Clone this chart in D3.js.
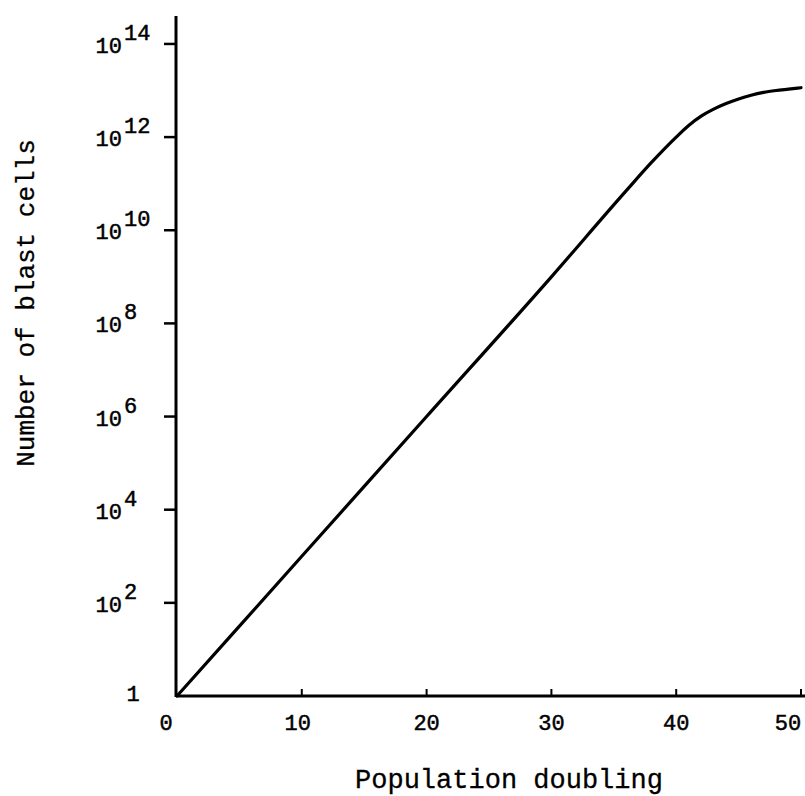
<!DOCTYPE html>
<html>
<head>
<meta charset="utf-8">
<script src="https://cdn.jsdelivr.net/npm/d3@7"></script>
<style>
  html, body { margin: 0; padding: 0; background: #fff; }
  svg { display: block; }
  text { font-family: "Liberation Mono", "DejaVu Sans Mono", monospace; fill: #000; }
</style>
</head>
<body>
<svg id="chart" width="805" height="796"></svg>
<script>
// ---- data ----
const doublings = [0, 10, 20, 30, 36, 38, 40, 41, 42, 43, 44, 45, 46, 47, 48, 49, 50];
const cellExponents = [0, 3.0, 6.0, 9.0, 10.85, 11.45, 12.0, 12.25, 12.45, 12.6, 12.72, 12.82, 12.9, 12.96, 13.0, 13.03, 13.06];
const cells = cellExponents.map(e => Math.pow(10, e));
const xTicks = [0, 10, 20, 30, 40, 50];
const yTickExps = [0, 2, 4, 6, 8, 10, 12, 14];
const xTitle = "Population doubling";
const yTitle = "Number of blast cells";

const svg = d3.select("#chart");
const x = d3.scaleLinear().domain([0, 50]).range([177, 801]);
const y = d3.scaleLog().domain([1, Math.pow(10, 14.6)]).range([696, 16]);

const ink = "#000";

// x axis line
svg.append("line")
  .attr("x1", x(0)).attr("x2", 805)
  .attr("y1", y(1)).attr("y2", y(1))
  .attr("stroke", ink).attr("stroke-width", 3);
// y axis line
svg.append("line")
  .attr("x1", x(0) - 1).attr("x2", x(0) - 1)
  .attr("y1", y(1) + 1).attr("y2", y.range()[1])
  .attr("stroke", ink).attr("stroke-width", 3);

// x ticks (small, pointing up)
svg.selectAll(".xt").data(xTicks.filter(d => d > 0)).enter().append("line")
  .attr("x1", d => x(d)).attr("x2", d => x(d))
  .attr("y1", y(1)).attr("y2", y(1) - 7)
  .attr("stroke", ink).attr("stroke-width", 2);

// x tick labels
const xOffsets = {0: -11, 10: -4, 50: -13};
svg.selectAll(".xl").data(xTicks).enter().append("text")
  .attr("x", d => x(d) + (xOffsets[d] || 0))
  .attr("y", 730)
  .attr("text-anchor", "middle")
  .attr("font-size", 22)
  .attr("stroke", ink).attr("stroke-width", 0.5)
  .text(d => d);

// y ticks (outward)
svg.selectAll(".yt").data(yTickExps.filter(e => e > 0)).enter().append("line")
  .attr("x1", x(0) - 13).attr("x2", x(0))
  .attr("y1", e => y(Math.pow(10, e))).attr("y2", e => y(Math.pow(10, e)))
  .attr("stroke", ink).attr("stroke-width", 2.5);

// y tick labels
yTickExps.forEach(e => {
  const yy = y(Math.pow(10, e));
  if (e === 0) {
    svg.append("text")
      .attr("x", 133).attr("y", yy + 5)
      .attr("text-anchor", "middle")
      .attr("font-size", 22)
      .attr("stroke", ink).attr("stroke-width", 0.5)
      .text("1");
  } else {
    svg.append("text")
      .attr("x", 122).attr("y", yy + 9)
      .attr("text-anchor", "end")
      .attr("font-size", 22)
      .attr("stroke", ink).attr("stroke-width", 0.5)
      .text("10");
    svg.append("text")
      .attr("x", 124).attr("y", yy - 4)
      .attr("text-anchor", "start")
      .attr("font-size", 22)
      .attr("stroke", ink).attr("stroke-width", 0.5)
      .text(e);
  }
});

// curve
const line = d3.line()
  .x((d, i) => x(doublings[i]))
  .y(d => y(d))
  .curve(d3.curveMonotoneX);
svg.append("path")
  .datum(cells)
  .attr("d", line)
  .attr("fill", "none")
  .attr("stroke", ink)
  .attr("stroke-width", 3.2)
  .attr("stroke-linecap", "round")
  .attr("stroke-linejoin", "round");

// axis titles
svg.append("text")
  .attr("x", 509).attr("y", 788)
  .attr("text-anchor", "middle")
  .attr("font-size", 27)
  .attr("stroke", ink).attr("stroke-width", 0.3)
  .text(xTitle);
svg.append("text")
  .attr("transform", "translate(34,303) rotate(-90)")
  .attr("text-anchor", "middle")
  .attr("font-size", 26)
  .attr("stroke", ink).attr("stroke-width", 0.3)
  .text(yTitle);
</script>
</body>
</html>
